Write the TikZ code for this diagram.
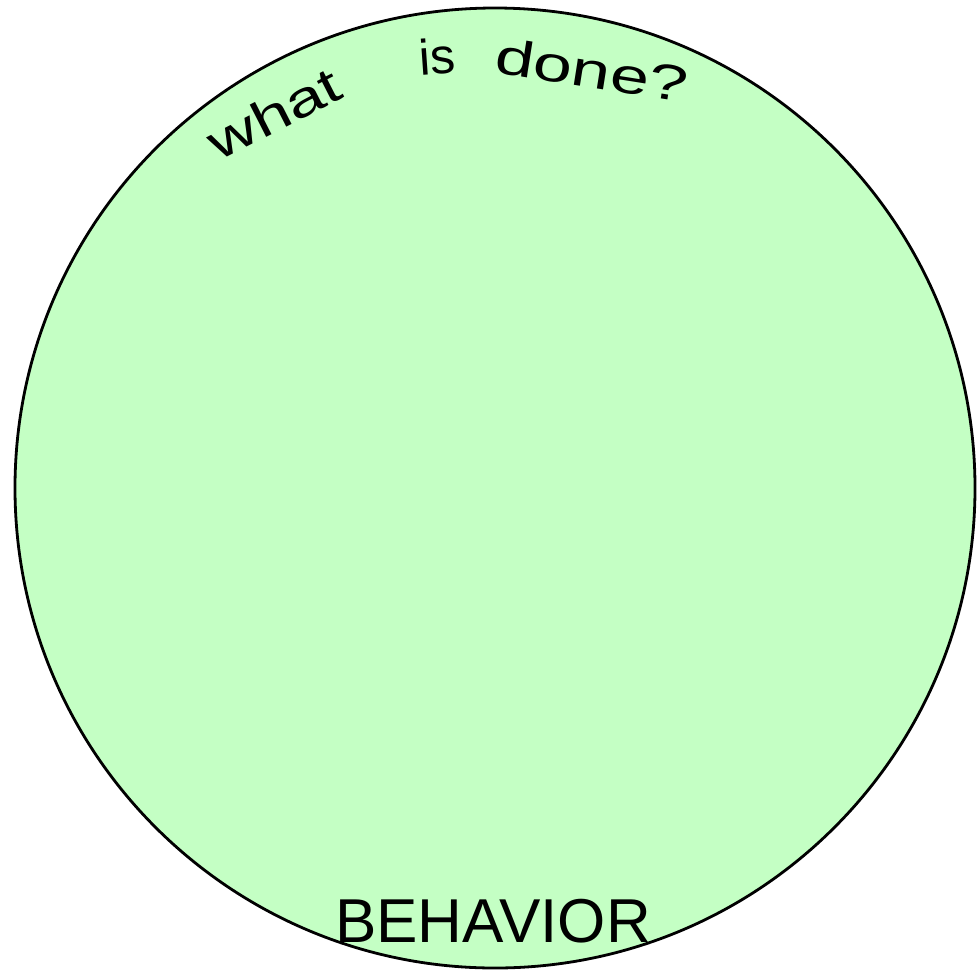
\documentclass[tikz,border=0pt]{standalone}
\usepackage{fontspec}
\setmainfont{Liberation Sans}
\definecolor{disc}{RGB}{196,255,196}
\begin{document}
\begin{tikzpicture}[x=1pt,y=-1pt,
  word/.style={inner sep=0pt, font=\fontsize{50}{50}\selectfont, text=black}]
\useasboundingbox (0,0) rectangle (977,970);
\node[circle, draw=black, line width=2.8pt, fill=disc, minimum size=960pt, inner sep=0pt] (disc) at (495,488) {};
\node[word, rotate=27, xscale=1.35] (w1) at (274,113) {what};
\node[word, rotate=4] (w2) at (437,56) {is};
\node[word, rotate=-9, xscale=1.4] (w3) at (592,70) {done?};
\node[inner sep=0pt, font=\fontsize{62}{62}\selectfont] (beh) at (493,921) {BEHAVIOR};
\end{tikzpicture}
\end{document}
